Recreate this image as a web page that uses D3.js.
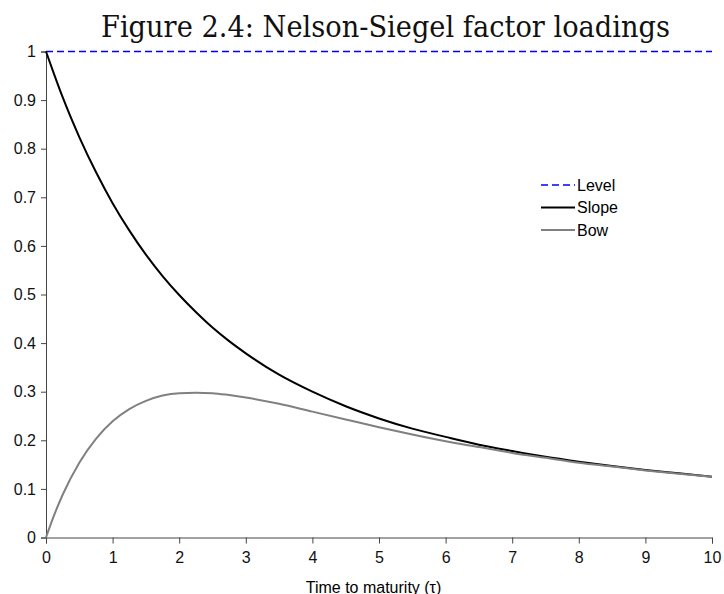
<!DOCTYPE html>
<html><head><meta charset="utf-8">
<script src="https://cdn.jsdelivr.net/npm/d3@7"></script>
<style>body{margin:0;background:#fff}svg{display:block}</style>
</head><body><svg id="c" width="724" height="594"></svg>
<script>
const tau =   [0,0.125,0.25,0.5,0.75,1,1.25,1.5,1.75,2,2.25,2.5,2.75,3,3.5,4,4.5,5,5.5,6,6.5,7,7.5,8,8.5,9,9.5,10];
const level = tau.map(()=>1);
const slope = [1,0.952,0.906,0.824,0.752,0.688,0.632,0.582,0.538,0.499,0.464,0.432,0.404,0.379,0.335,0.300,0.270,0.245,0.224,0.207,0.191,0.178,0.166,0.156,0.147,0.139,0.132,0.125];
const bow =   [0,0.047,0.088,0.154,0.203,0.239,0.264,0.281,0.292,0.297,0.298,0.297,0.293,0.288,0.275,0.259,0.243,0.227,0.212,0.198,0.186,0.174,0.164,0.154,0.146,0.138,0.131,0.125];
const xTicks = [0,1,2,3,4,5,6,7,8,9,10];
const yTicks = [0,0.1,0.2,0.3,0.4,0.5,0.6,0.7,0.8,0.9,1];
const seriesNames = ["Level","Slope","Bow"];
const series = [level, slope, bow];
const colors = ["#0000ff","#000000","#808080"];
const dashes = ["7,4",null,null];
const widths = [1.5,2,2];

const svg = d3.select("#c");
const x = d3.scaleLinear().domain([0,10]).range([46,712]);
const y = d3.scaleLinear().domain([0,1]).range([537.5,51.5]);

const xa = svg.append("g").attr("transform","translate(0,537.5)")
  .call(d3.axisBottom(x).tickValues(xTicks).tickSize(6).tickPadding(8).tickFormat(d3.format("d")));
const ya = svg.append("g").attr("transform","translate(46,0)")
  .call(d3.axisLeft(y).tickValues(yTicks).tickSize(5).tickPadding(5).tickFormat(d=>d===0?"0":d===1?"1":d3.format(".1f")(d)));
[xa,ya].forEach(a=>{
  a.selectAll("path").attr("stroke","#444").attr("stroke-width",1);
  a.selectAll("line").attr("stroke","#444");
  a.selectAll("text").attr("font-family","Liberation Sans, Arial, sans-serif").attr("font-size",16).attr("fill","#111");
});

const line = d3.line().x((d,i)=>x(tau[i])).y(d=>y(d)).curve(d3.curveMonotoneX);
series.forEach((s,k)=>{
  svg.append("path").datum(s).attr("d",line).attr("fill","none")
    .attr("stroke",colors[k]).attr("stroke-width",widths[k])
    .attr("stroke-dasharray",dashes[k]);
});

const lg = svg.append("g");
seriesNames.forEach((n,k)=>{
  const yy = 185 + k*22.5;
  lg.append("line").attr("x1",541).attr("x2",575).attr("y1",yy).attr("y2",yy)
    .attr("stroke",colors[k]).attr("stroke-width",widths[k]).attr("stroke-dasharray",dashes[k]);
  lg.append("text").attr("x",577).attr("y",yy+5.5).text(n)
    .attr("font-family","Liberation Sans, Arial, sans-serif").attr("font-size",16).attr("fill","#000");
});

svg.append("text").attr("x",101).attr("y",37).text("Figure 2.4: Nelson-Siegel factor loadings")
  .attr("font-family","DejaVu Serif, Liberation Serif, serif").attr("font-size",29)
  .attr("textLength",569).attr("lengthAdjust","spacingAndGlyphs").attr("fill","#111");

svg.append("text").attr("x",373.5).attr("y",592.5).attr("text-anchor","middle").text("Time to maturity (τ)")
  .attr("font-family","Liberation Sans, Arial, sans-serif").attr("font-size",16).attr("fill","#000");
</script></body></html>
